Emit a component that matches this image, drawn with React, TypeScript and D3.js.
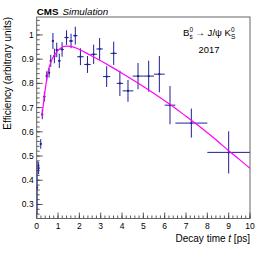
import * as d3 from "d3"

// decay time bins (ps), measured efficiency and uncertainties
const times = [0.02, 0.09, 0.19, 0.26, 0.36, 0.47, 0.58, 0.66, 0.76, 0.83, 0.94, 1.06, 1.19, 1.4, 1.61, 1.81, 2.05, 2.38, 2.67, 2.95, 3.28, 3.61, 3.9, 4.28, 4.75, 5.25, 5.75, 6.25, 7.25, 9.0]
const effs = [0.37, 0.45, 0.55, 0.672, 0.745, 0.83, 0.844, 0.893, 0.975, 0.913, 0.938, 0.893, 0.94, 0.989, 0.975, 0.997, 0.91, 0.878, 0.92, 0.942, 0.828, 0.924, 0.8, 0.769, 0.83, 0.83, 0.838, 0.71, 0.636, 0.515]
const timeErr = [0.02, 0.03, 0.04, 0.04, 0.05, 0.05, 0.05, 0.05, 0.05, 0.05, 0.05, 0.06, 0.08, 0.1, 0.1, 0.1, 0.15, 0.15, 0.15, 0.15, 0.17, 0.15, 0.15, 0.25, 0.25, 0.25, 0.25, 0.25, 0.75, 1.0]
const effErr = [0.11, 0.025, 0.02, 0.02, 0.02, 0.02, 0.02, 0.025, 0.033, 0.03, 0.03, 0.03, 0.03, 0.03, 0.03, 0.037, 0.035, 0.035, 0.04, 0.045, 0.043, 0.048, 0.052, 0.045, 0.054, 0.064, 0.075, 0.079, 0.06, 0.087]

// fitted acceptance curve
const fitT = [0.25, 0.4, 0.55, 0.7, 0.9, 1.1, 1.35, 1.6, 2.0, 2.5, 3.0, 3.5, 4.0, 4.5, 5.0, 5.5, 6.0, 6.5, 7.0, 7.5, 8.0, 8.5, 9.0, 9.5, 10]
const fitEff = [0.665, 0.775, 0.855, 0.895, 0.925, 0.944, 0.954, 0.953, 0.94, 0.917, 0.893, 0.868, 0.842, 0.815, 0.787, 0.758, 0.728, 0.697, 0.664, 0.631, 0.596, 0.56, 0.522, 0.486, 0.449]

const xTicks = [0, 1, 2, 3, 4, 5, 6, 7, 8, 9, 10]
const yTicks = [0.3, 0.4, 0.5, 0.6, 0.7, 0.8, 0.9, 1]

const W = 266
const H = 255
const margin = { top: 17, right: 16, bottom: 36.5, left: 36.7 }
const font = "'Liberation Sans', Arial, Helvetica, sans-serif"
const blue = "#1f1f96"

export default function App() {
  const x = d3.scaleLinear().domain([0, 10]).range([margin.left, W - margin.right])
  const y = d3.scaleLinear().domain([0.242, 1.074]).range([H - margin.bottom, margin.top])

  const x0 = x.range()[0]
  const x1 = x.range()[1]
  const y0 = y.range()[0]
  const y1 = y.range()[1]

  const xMinor = d3.range(0, 10.001, 0.2)
  const yMinor = d3.range(0.26, 1.07, 0.02)

  const line = d3
    .line<number>()
    .x((d, i) => x(fitT[i]))
    .y((d) => y(d))
    .curve(d3.curveMonotoneX)

  return (
    <svg width={W} height={H} style={{ position: "absolute", left: 0, top: 0, background: "#fff" }} fontFamily={font}>
      <rect x={0} y={0} width={W} height={H} fill="#fff" />

      {/* ticks */}
      {xTicks.map((t) => (
        <line key={"xt" + t} x1={x(t)} x2={x(t)} y1={y0} y2={y0 - 6} stroke="#333" strokeWidth={0.8} />
      ))}
      {xMinor.map((t, i) => (
        <line key={"xm" + i} x1={x(t)} x2={x(t)} y1={y0} y2={y0 - 3} stroke="#333" strokeWidth={0.8} />
      ))}
      {yTicks.map((v) => (
        <line key={"yt" + v} x1={x0} x2={x0 + 6} y1={y(v)} y2={y(v)} stroke="#333" strokeWidth={0.8} />
      ))}
      {yMinor.map((v, i) => (
        <line key={"ym" + i} x1={x0} x2={x0 + 3} y1={y(v)} y2={y(v)} stroke="#333" strokeWidth={0.8} />
      ))}

      {/* tick labels */}
      {xTicks.map((t) => (
        <text key={"xl" + t} x={x(t)} y={y0 + 10} fontSize={8.5} textAnchor="middle" fill="#000">
          {t}
        </text>
      ))}
      {yTicks.map((v) => (
        <text key={"yl" + v} x={x0 - 3} y={y(v) + 3} fontSize={8.5} textAnchor="end" fill="#000">
          {v === 1 ? "1" : v.toFixed(1)}
        </text>
      ))}

      {/* error bars */}
      <g stroke={blue} strokeWidth={1}>
        {times.map((t, i) => (
          <g key={"p" + i}>
            <line x1={x(t - timeErr[i])} x2={x(t + timeErr[i])} y1={y(effs[i])} y2={y(effs[i])} />
            <line x1={x(t)} x2={x(t)} y1={y(effs[i] - effErr[i])} y2={y(effs[i] + effErr[i])} />
            <circle cx={x(t)} cy={y(effs[i])} r={1.1} fill={blue} stroke="none" />
          </g>
        ))}
      </g>

      {/* fit */}
      <path d={line(fitEff) || ""} fill="none" stroke="#ff00ff" strokeWidth={1.2} />

      {/* frame */}
      <rect x={x0} y={y1} width={x1 - x0} height={y0 - y1} fill="none" stroke="#555" strokeWidth={0.9} />

      {/* axis titles */}
      <text x={x1} y={242} fontSize={10} textAnchor="end" fill="#000">
        Decay time <tspan fontStyle="italic">t</tspan> [ps]
      </text>
      <text transform={`translate(11,${y1}) rotate(-90)`} fontSize={10} textAnchor="end" fill="#000">
        Efficiency (arbitrary units)
      </text>

      {/* CMS label */}
      <text x={x0} y={14.5} fontSize={9.8} fill="#000">
        <tspan fontWeight="bold">CMS</tspan>
        <tspan fontStyle="italic" dx={4}>Simulation</tspan>
      </text>

      {/* decay label */}
      <text x={183} y={36} fontSize={9.6} fill="#000">
        B<tspan fontSize={6.5} dy={-4}>0</tspan>
        <tspan fontSize={6.5} dx={-3.6} dy={7}>s</tspan>
        <tspan dy={-3}> → J/ψ K</tspan>
        <tspan fontSize={6.5} dy={-4}>0</tspan>
        <tspan fontSize={6.5} dx={-3.6} dy={7}>S</tspan>
      </text>
      <text x={209} y={53} fontSize={9.4} textAnchor="middle" fill="#000">
        2017
      </text>
    </svg>
  )
}
